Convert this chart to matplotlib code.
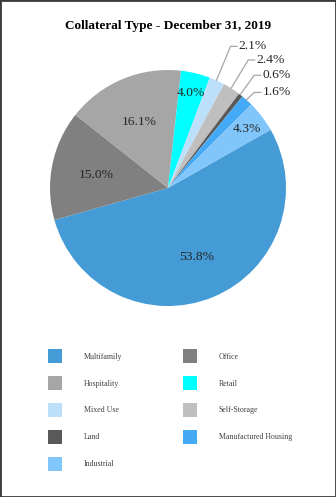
import numpy as np
import matplotlib.pyplot as plt
from matplotlib.patches import Rectangle

categories = ['Multifamily', 'Office', 'Hospitality', 'Retail', 'Mixed Use',
              'Self-Storage', 'Land', 'Manufactured Housing', 'Industrial']
shares = [53.8, 15.0, 16.1, 4.0, 2.1, 2.4, 0.6, 1.6, 4.3]
colors = ['#459bd6', '#808080', '#a6a6a6', '#00ffff', '#bde0fa',
          '#bfbfbf', '#595959', '#44aaf5', '#80c6fa']
# slices labelled outside with leader lines
outside = ['Mixed Use', 'Self-Storage', 'Land', 'Manufactured Housing']
outside_pos = [(0.60, 1.20), (0.75, 1.085), (0.80, 0.955), (0.80, 0.81)]

plt.rcParams['font.family'] = ['Liberation Serif', 'DejaVu Serif']

W, H = 336, 497
fig = plt.figure(figsize=(W / 100, H / 100), dpi=100)
fig.add_artist(Rectangle((0, 0), 1, 1, transform=fig.transFigure, fill=False,
                         edgecolor='#3a3a3a', linewidth=2.0))

cx, cy, r = 168, 188, 118
ax = fig.add_axes([(cx - r) / W, (H - cy - r) / H, 2 * r / W, 2 * r / H])

start = 29.6
wedges, _ = ax.pie(shares, colors=colors, startangle=start, counterclock=False,
                   radius=1.0, wedgeprops=dict(linewidth=0))
ax.set_xlim(-1, 1)
ax.set_ylim(-1, 1)
ax.axis('off')

cum = np.cumsum([0] + shares[:-1])
for i, (cat, val) in enumerate(zip(categories, shares)):
    mid = np.deg2rad(start - (cum[i] + val / 2) * 3.6)
    if cat in outside:
        tx, ty = outside_pos[outside.index(cat)]
        ex, ey = 1.0 * np.cos(mid), 1.0 * np.sin(mid)
        ax.plot([ex, tx - 0.07, tx - 0.015], [ey, ty, ty], color='#a6a6a6',
                lw=0.9, clip_on=False)
        ax.text(tx, ty, f'{val:.1f}%', ha='left', va='center', fontsize=9.7,
                color='#262626')
    else:
        rr = 0.84 if val < 10 else 0.62
        ax.text(rr * np.cos(mid), rr * np.sin(mid), f'{val:.1f}%', ha='center',
                va='center_baseline', fontsize=9.7, color='#262626')

fig.text(168 / W, 1 - 26 / H, 'Collateral Type - December 31, 2019', ha='center',
         va='center', fontsize=9.5, fontweight='bold')

order = [0, 2, 4, 6, 8, 1, 3, 5, 7]
leg = fig.legend([wedges[i] for i in order], [categories[i] for i in order],
                 ncol=2, loc='upper left', bbox_to_anchor=(48 / W, 1 - 349 / H),
                 frameon=False, fontsize=5.7, handlelength=1.75, handleheight=2.4,
                 handletextpad=2.8, labelspacing=1.6, columnspacing=7.6,
                 borderpad=0, borderaxespad=0)
for t in leg.get_texts():
    t.set_color('#404040')

fig.savefig('out.png', dpi=100)
